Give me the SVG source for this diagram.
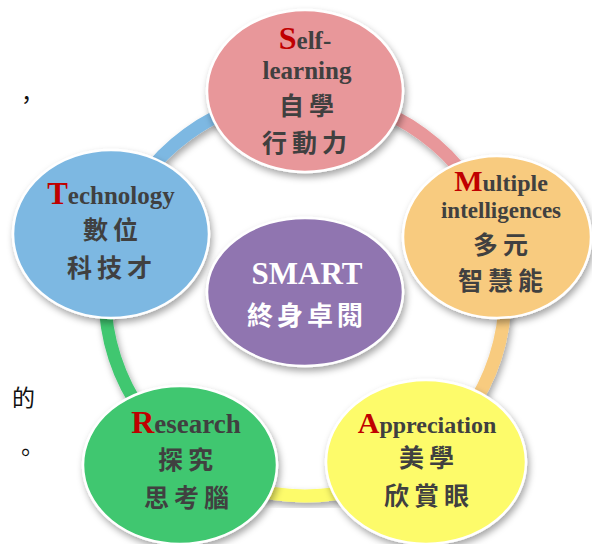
<svg xmlns="http://www.w3.org/2000/svg" width="592" height="544" viewBox="0 0 592 544">
  <defs>
    <filter id="sh" x="-20%" y="-20%" width="150%" height="150%">
      <feDropShadow dx="2" dy="4" stdDeviation="3.5" flood-color="#000" flood-opacity="0.35"/>
    </filter>
    <style>
      .arc { fill: none; stroke-width: 13; filter: url(#sh); }
      .node { stroke: #ffffff; stroke-width: 2.5; filter: url(#sh); }
      .en { font-family: "Liberation Serif", "Times New Roman", serif; font-weight: bold; fill: #404040; text-anchor: middle; }
      .red { fill: #c00000; }
      .zh { font-family: "Noto Sans CJK TC", "Noto Sans CJK SC", sans-serif; font-weight: bold; fill: #404040; font-size: 25px; letter-spacing: 5px; text-anchor: middle; }
      .frag { font-family: "Noto Sans CJK TC", sans-serif; font-size: 23px; fill: #111111; }
    </style>
  </defs>

  <g id="page-fragments">
    <text class="frag" x="15" y="108">，</text>
    <text class="frag" x="12" y="406">的</text>
    <text class="frag" x="14" y="461">。</text>
  </g>

  <g id="connectors">
    <path class="arc" stroke="#7db8e2" d="M 114.8 234.2 A 200 200 0 0 1 305 96"/>
    <path class="arc" stroke="#e8979a" d="M 305 96 A 200 200 0 0 1 495.2 234.2"/>
    <path class="arc" stroke="#f8cb7f" d="M 495.2 234.2 A 200 200 0 0 1 422.6 457.8"/>
    <path class="arc" stroke="#fdfb6a" d="M 422.6 457.8 A 200 200 0 0 1 187.4 457.8"/>
    <path class="arc" stroke="#3fc770" d="M 187.4 457.8 A 200 200 0 0 1 114.8 234.2"/>
  </g>

  <g id="node-self-learning">
    <ellipse class="node" cx="305" cy="91" rx="98" ry="81" fill="#e8979a"/>
    <text class="en" x="305" y="49" font-size="25"><tspan class="red" font-size="32">S</tspan>elf-</text>
    <text class="en" x="307" y="79" font-size="25">learning</text>
    <text class="zh" x="309" y="115">自學</text>
    <text class="zh" x="307" y="152">行動力</text>
  </g>

  <g id="node-multiple">
    <ellipse class="node" cx="497" cy="237" rx="94" ry="81" fill="#f8cb7f"/>
    <text class="en" x="501" y="191" font-size="24"><tspan class="red" font-size="30">M</tspan>ultiple</text>
    <text class="en" x="501" y="218" font-size="23">intelligences</text>
    <text class="zh" x="503" y="254">多元</text>
    <text class="zh" x="503" y="290">智慧能</text>
  </g>

  <g id="node-technology">
    <ellipse class="node" cx="111" cy="234" rx="98" ry="84" fill="#7db8e2"/>
    <text class="en" x="111" y="204" font-size="25"><tspan class="red" font-size="31">T</tspan>echnology</text>
    <text class="zh" x="113" y="239">數位</text>
    <text class="zh" x="112" y="277">科技才</text>
  </g>

  <g id="node-smart">
    <ellipse class="node" cx="305" cy="292" rx="98" ry="74" fill="#9075b0"/>
    <text class="en" x="307" y="284" font-size="31" style="fill:#ffffff">SMART</text>
    <text class="zh" x="307" y="325" style="fill:#ffffff;font-size:26px;letter-spacing:4px">終身卓閱</text>
  </g>

  <g id="node-research">
    <ellipse class="node" cx="180" cy="465" rx="97" ry="79" fill="#3fc770"/>
    <text class="en" x="186" y="433" font-size="27"><tspan class="red" font-size="32">R</tspan>esearch</text>
    <text class="zh" x="188" y="469">探究</text>
    <text class="zh" x="189" y="507">思考腦</text>
  </g>

  <g id="node-appreciation">
    <ellipse class="node" cx="426" cy="462" rx="100" ry="82" fill="#fdfb6a"/>
    <text class="en" x="427" y="433" font-size="24"><tspan class="red" font-size="30">A</tspan>ppreciation</text>
    <text class="zh" x="429" y="467">美學</text>
    <text class="zh" x="429" y="505">欣賞眼</text>
  </g>
</svg>
